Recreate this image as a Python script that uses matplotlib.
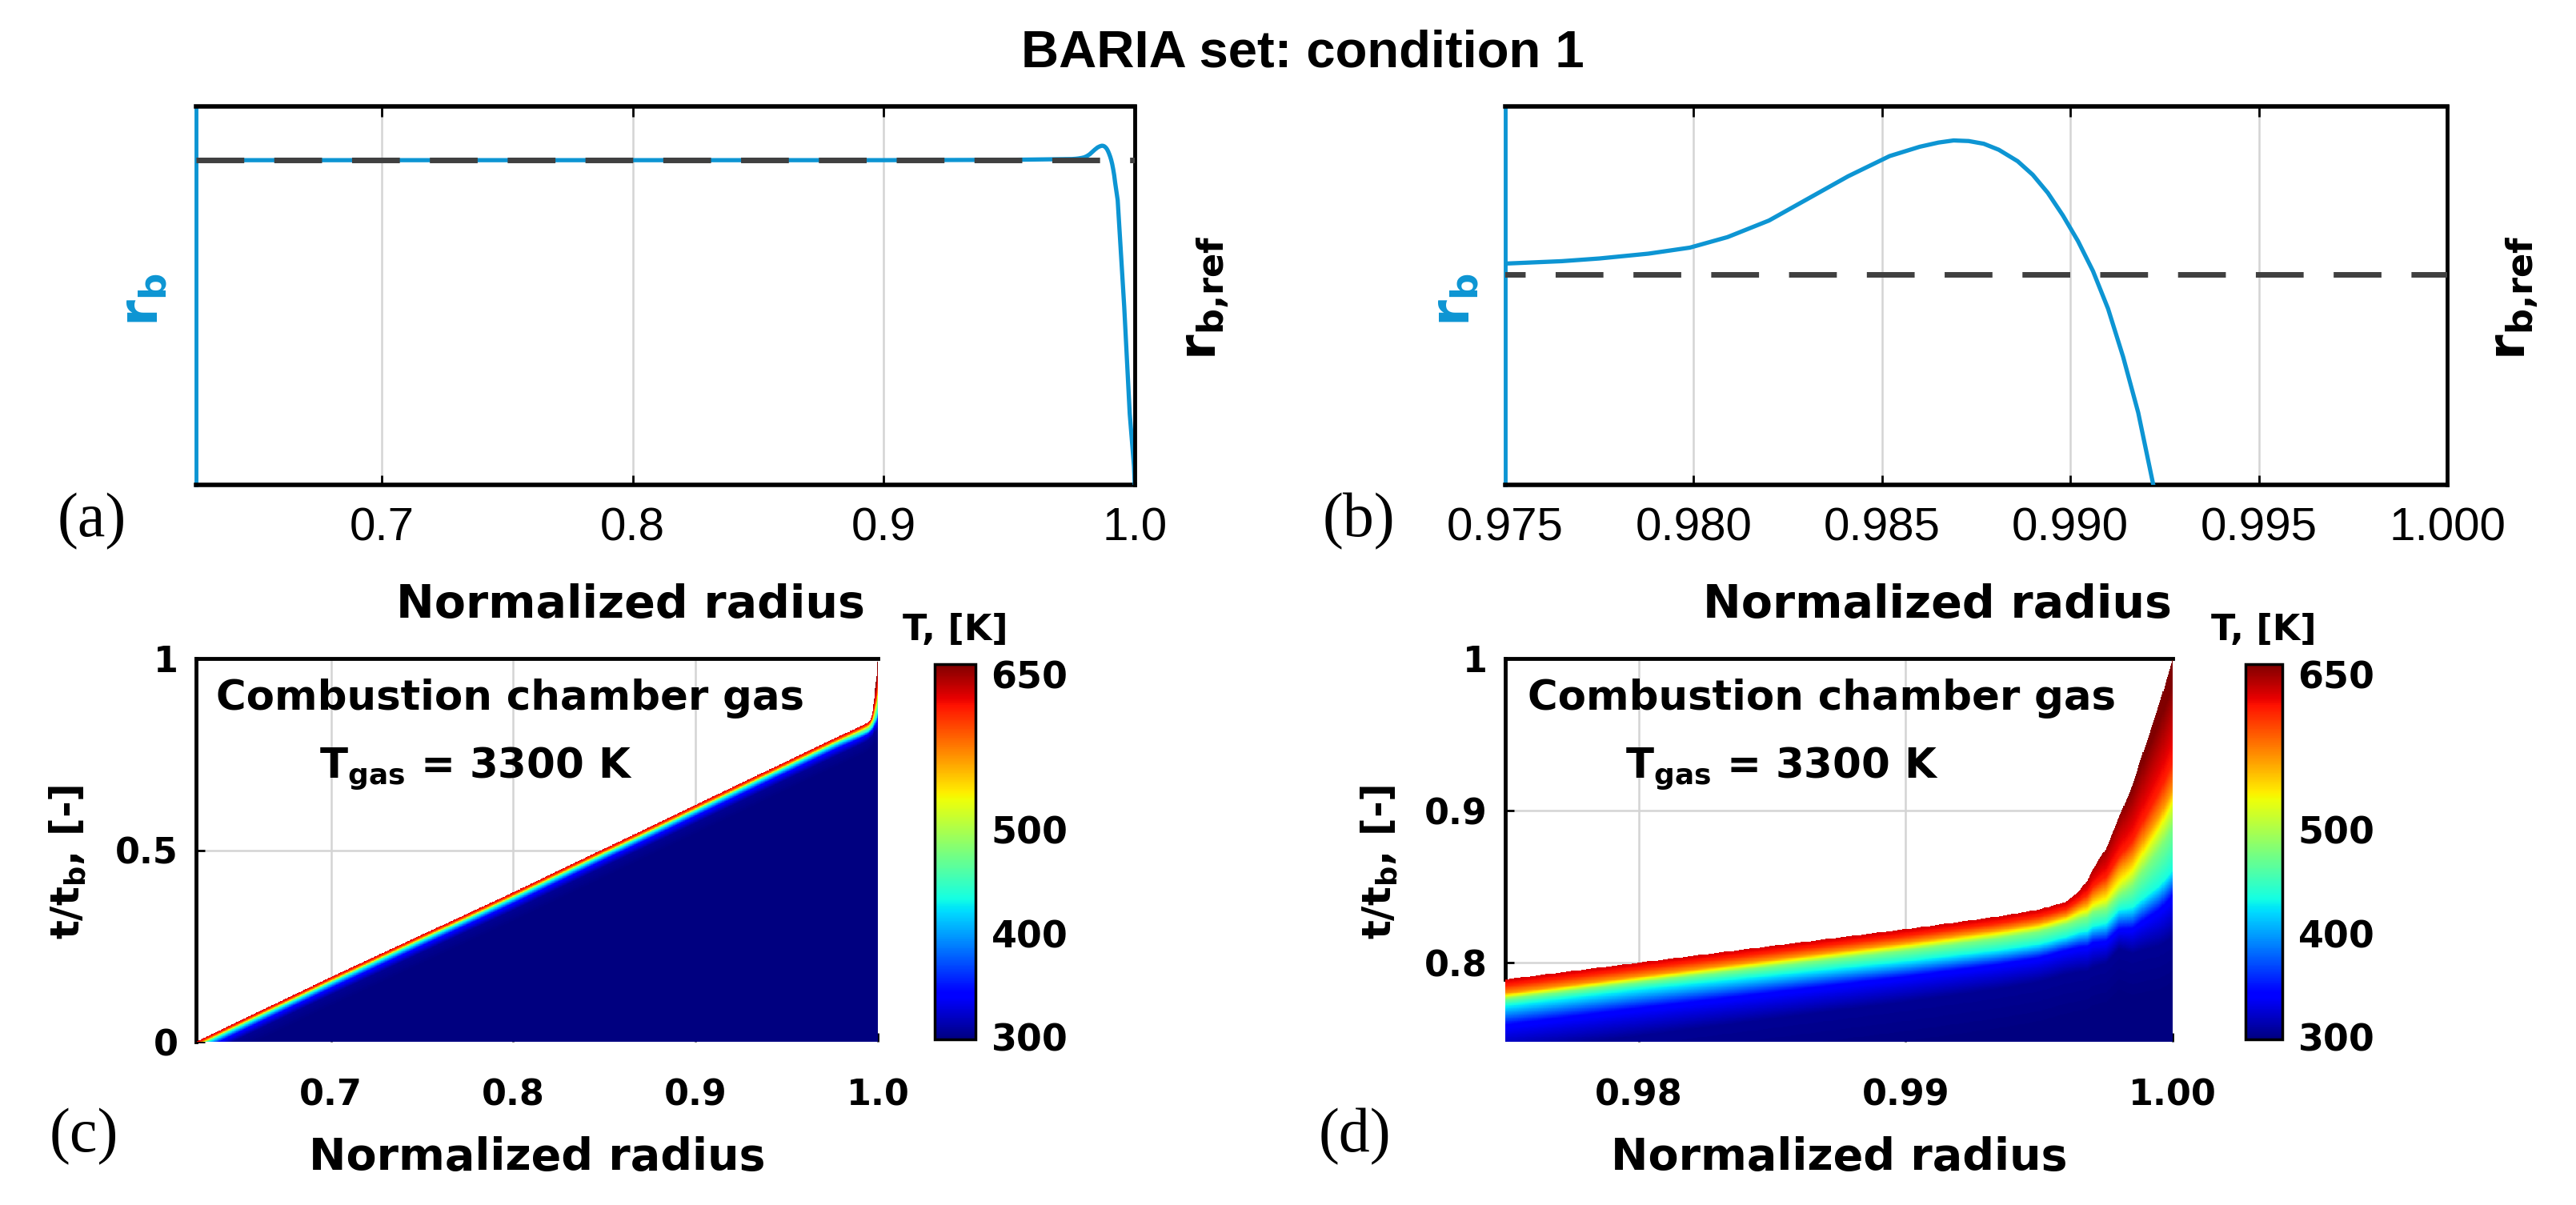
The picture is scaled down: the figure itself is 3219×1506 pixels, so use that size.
import numpy as np
import matplotlib
matplotlib.use("Agg")
import matplotlib.pyplot as plt

W, H = 3219, 1506

# burning rate along the normalized radius, normalized by r_b,ref
rb_r = [0.626, 0.70, 0.80, 0.90, 0.95, 0.970, 0.975, 0.9765, 0.9775, 0.9788,
        0.9799, 0.9809, 0.9820, 0.9830, 0.9841, 0.9852, 0.9860, 0.9865, 0.9869,
        0.9873, 0.9877, 0.9881, 0.9886, 0.9890, 0.9894, 0.9898, 0.9902, 0.9906,
        0.9910, 0.9914, 0.9918, 0.9922, 0.9932, 0.9958, 0.998, 0.9997, 1.0]
rb_val = [1.000, 1.000, 1.000, 1.000, 1.001, 1.003, 1.0035, 1.0043, 1.0052, 1.0068,
          1.0088, 1.0123, 1.0178, 1.0248, 1.0325, 1.0392, 1.0423, 1.0437, 1.0444,
          1.0442, 1.0433, 1.0413, 1.0375, 1.0330, 1.0270, 1.0195, 1.0110, 1.0010,
          0.9885, 0.9725, 0.9540, 0.930, 0.877, 0.549, 0.219, 0.057, 0.0]
rb_ref = 1.0

# burning surface: time t/t_b at which the surface reaches a given radius
front_r = [0.626, 0.70, 0.80, 0.90, 0.975, 0.980, 0.985, 0.990, 0.9935, 0.995,
           0.996, 0.9965, 0.9968, 0.9970, 0.9975, 0.9980, 0.9985, 0.9990, 0.9995, 1.0]
front_t = [0.0, 0.169, 0.390, 0.618, 0.789, 0.800, 0.811, 0.822, 0.8305, 0.835,
           0.840, 0.847, 0.854, 0.861, 0.875, 0.896, 0.917, 0.944, 0.970, 1.0]

# heated layer under the surface: depth (in t/t_b) where each temperature is reached
# (a negative first depth means the surface itself stays below the top level)
T_levels = [660, 615, 569, 524, 479, 434, 343, 305, 298]
layer_r = [0.626, 0.980, 0.996, 0.9965, 0.9970, 0.998, 1.0]
layer_depth = [
    [-0.006, 0.004, 0.008, 0.010, 0.012, 0.016, 0.029, 0.046, 0.080],
    [-0.006, 0.004, 0.009, 0.011, 0.013, 0.017, 0.030, 0.048, 0.080],
    [-0.006, 0.0045, 0.009, 0.012, 0.015, 0.023, 0.032, 0.0475, 0.080],
    [-0.006, 0.006, 0.011, 0.015, 0.019, 0.027, 0.037, 0.053, 0.085],
    [-0.006, 0.011, 0.018, 0.024, 0.028, 0.037, 0.048, 0.064, 0.095],
    [-0.004, 0.026, 0.035, 0.045, 0.052, 0.061, 0.074, 0.087, 0.120],
    [0.016, 0.068, 0.086, 0.096, 0.111, 0.139, 0.156, 0.183, 0.220],
]

ticks_a = [0.7, 0.8, 0.9, 1.0]
ticks_b = [0.975, 0.980, 0.985, 0.990, 0.995, 1.000]
ticks_c = [0.7, 0.8, 0.9, 1.0]
ticks_d = [0.98, 0.99, 1.00]
yticks_c = [0, 0.5, 1]
yticks_d = [0.8, 0.9, 1]
cbar_ticks = [300, 400, 500, 650]

blue = "#0d95d3"
dark = "#404040"
grid_c = "#d4d4d4"

plt.rcParams["font.family"] = "DejaVu Sans"
plt.rcParams["mathtext.fontset"] = "dejavusans"


def box(l, t, r, b):
    return [l / W, 1 - b / H, (r - l) / W, (b - t) / H]


def temp_field(r_edges, t_edges):
    rc = 0.5 * (r_edges[1:] + r_edges[:-1])
    tc = 0.5 * (t_edges[1:] + t_edges[:-1])
    ts = np.interp(rc, front_r, front_t)
    tab = np.array(layer_depth)
    T = np.empty((len(tc), len(rc)))
    for j, r in enumerate(rc):
        d_lev = [np.interp(r, layer_r, tab[:, k]) for k in range(len(T_levels))]
        T[:, j] = np.interp(ts[j] - tc, d_lev, T_levels)
    return np.ma.masked_where(tc[:, None] > ts[None, :], T)


fig = plt.figure(figsize=(W / 100, H / 100), dpi=100)
fig.text(1628 / W, 1 - 67 / H, "BARIA set: condition 1", ha="center", va="center",
         fontsize=47, fontweight="bold", family="Liberation Sans")


def rate_panel(rect, xlim, ylim, ticks, fmt, xlab_x, lab_l, lab_r):
    ax = fig.add_axes(box(*rect))
    ax.plot(rb_r, rb_val, color=blue, lw=3.8, zorder=3)
    ax.set_xlim(xlim)
    ax.set_ylim(ylim)
    ax.set_yticks([])
    ax.set_xticks(ticks, labels=[fmt % v for v in ticks])
    ax.tick_params(axis="x", direction="in", length=9, width=2, top=True, pad=20,
                   labelsize=42, labelfontfamily="Liberation Sans")
    ax.grid(axis="x", color=grid_c, lw=1.8)
    ax.set_axisbelow(True)
    for s in ["top", "bottom"]:
        ax.spines[s].set_linewidth(4)
    ax.spines["left"].set_color(blue)
    ax.spines["left"].set_linewidth(3.5)
    ax.spines["right"].set_visible(False)
    ax.set_xlabel("Normalized radius", fontsize=41, fontweight="bold", va="center")
    ax.xaxis.set_label_coords(xlab_x, -0.319)
    ax.set_ylabel(r"$\mathbf{r_{b}}$", color=blue, fontsize=48, ha="center", va="center")
    ax.yaxis.set_label_coords(lab_l, 0.49)

    ax2 = ax.twinx()
    ax2.plot([rb_r[0], rb_r[-1]], [rb_ref, rb_ref], color=dark, lw=5,
             dashes=(8.6, 5.4), zorder=4)
    ax2.set_ylim(ylim)
    ax2.set_yticks([])
    for s in ["top", "bottom", "left"]:
        ax2.spines[s].set_visible(False)
    ax2.spines["right"].set_linewidth(3.5)
    ax2.set_ylabel(r"$\mathbf{r_{b{,}ref}}$", fontsize=46, rotation=90, ha="center", va="center")
    ax2.yaxis.set_label_coords(lab_r, 0.495)
    return ax


rate_panel((245, 133, 1418, 606), (0.626, 1.0), (0, 1.1655), ticks_a, "%.1f", 0.463, -0.057, 1.076)
rate_panel((1881, 133, 3058, 606), (0.975, 1.0), (0.93, 1.0557), ticks_b, "%.3f", 0.459, -0.054, 1.072)


def temp_panel(rect, crect, xlim, ylim, nr, nt, xticks, xfmt, yticks, yfmt, text_x, tgas_x):
    ax = fig.add_axes(box(*rect))
    r_edges = np.linspace(xlim[0], xlim[1], nr + 1)
    t_edges = np.linspace(ylim[0], ylim[1], nt + 1)
    T = temp_field(r_edges, t_edges)
    mesh = ax.pcolormesh(r_edges, t_edges, T, cmap="jet", vmin=298, vmax=660,
                         shading="flat", zorder=3)
    ax.set_xlim(xlim)
    ax.set_ylim(ylim)
    ax.set_xticks(xticks, labels=[xfmt % v for v in xticks], fontsize=32, fontweight="bold")
    ax.set_yticks(yticks, labels=[yfmt % v for v in yticks], fontsize=32, fontweight="bold")
    ax.tick_params(axis="x", direction="in", length=8, width=2, pad=33)
    ax.tick_params(axis="y", direction="in", length=8, width=2, pad=16)
    ax.grid(color=grid_c, lw=1.8)
    ax.set_axisbelow(True)
    ax.spines["bottom"].set_visible(False)
    ax.spines["right"].set_visible(False)
    ax.spines["top"].set_linewidth(3.5)
    ax.spines["left"].set_linewidth(3.5)
    ax.spines["left"].set_bounds(np.interp(xlim[0], front_r, front_t), ylim[1])
    ax.set_xlabel("Normalized radius", fontsize=40, fontweight="bold", va="center")
    ax.xaxis.set_label_coords(0.5, -0.303)
    ax.set_ylabel(r"$\mathbf{t/t_{b}}$, [-]", fontsize=36, fontweight="bold",
                  ha="center", va="center")
    ax.yaxis.set_label_coords(-0.188, 0.47)
    ax.text(text_x, 0.866, "Combustion chamber gas", transform=ax.transAxes, ha="center",
            va="baseline", fontsize=37, fontweight="bold", zorder=6)
    ax.text(tgas_x, 0.69, r"$\mathbf{T_{gas}}$ = 3300 K", transform=ax.transAxes,
            ha="center", va="baseline", fontsize=37, fontweight="bold", zorder=6)

    cax = fig.add_axes(box(*crect))
    cb = fig.colorbar(mesh, cax=cax)
    cb.set_ticks(cbar_ticks)
    cb.set_ticklabels([str(v) for v in cbar_ticks], fontsize=33, fontweight="bold")
    cb.ax.tick_params(length=0, pad=14)
    cb.outline.set_linewidth(2.5)
    cax.text(0.5, 1.09, "T, [K]", transform=cax.transAxes, ha="center", va="center",
             fontsize=32, fontweight="bold")
    return ax


temp_panel((245, 823, 1097, 1302), (1168, 830, 1219, 1299), (0.626, 1.0), (0.0, 1.0),
           1200, 800, ticks_c, "%.1f", yticks_c, "%g", 0.461, 0.41)
temp_panel((1881, 823, 2715, 1302), (2806, 830, 2852, 1299), (0.975, 1.0), (0.748, 1.0),
           800, 600, ticks_d, "%.2f", yticks_d, "%g", 0.474, 0.415)

for s, xy in [("(a)", (115, 652)), ("(b)", (1698, 652)), ("(c)", (105, 1421)), ("(d)", (1693, 1421))]:
    fig.text(xy[0] / W, 1 - xy[1] / H, s, ha="center", va="center", fontsize=56,
             family="Liberation Serif")

fig.savefig("out.png", dpi=100)
